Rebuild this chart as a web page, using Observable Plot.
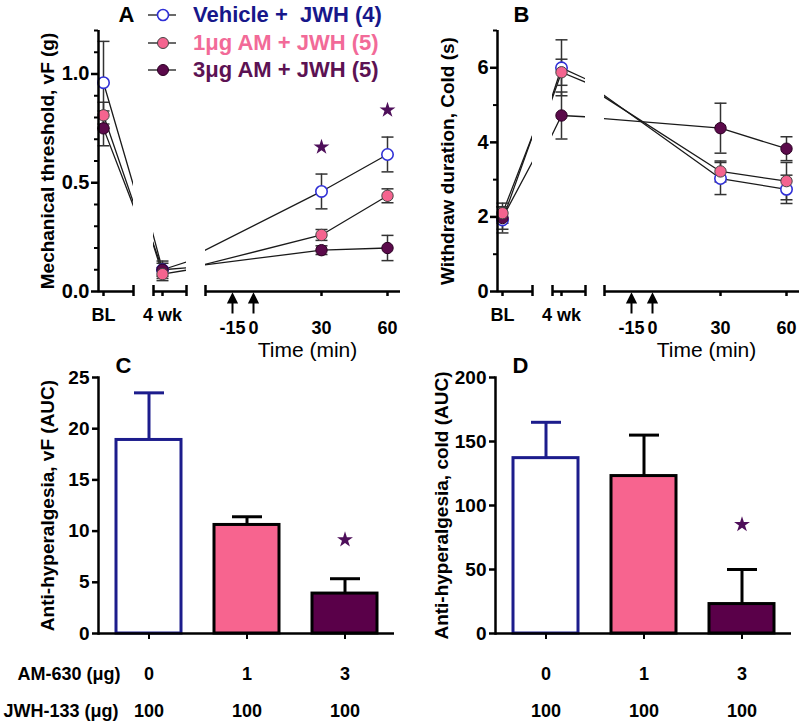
<!DOCTYPE html>
<html>
<head>
<meta charset="utf-8">
<script src="https://cdn.jsdelivr.net/npm/d3@7"></script>
<script src="https://cdn.jsdelivr.net/npm/@observablehq/plot@0.6"></script>
<style>
  html, body { margin: 0; padding: 0; background: #fff; }
  #root { position: relative; width: 800px; height: 722px; overflow: hidden;
          font-family: 'Liberation Sans', Arial, Helvetica, sans-serif; }
  .legrow { position: absolute; left: 148px; height: 26px; display: flex; align-items: center;
            font-weight: bold; font-size: 22px; white-space: pre; }
</style>
</head>
<body>
<div id="root"></div>
<script>
// ---------------- DATA ----------------
const groups = ["Vehicle +  JWH (4)", "1\u03bcg AM + JWH (5)", "3\u03bcg AM + JWH (5)"];
const timeLabels = ["BL", "4 wk", "30", "60"];
const timeTickLabels = ["-15", "0", "30", "60"];
const arrowTimes = [-15, 0];

// Panel A: mechanical threshold (g)
const vfVehicle    = [0.96, 0.10, 0.46, 0.63];
const vfVehicleSem = [0.19, 0.03, 0.08, 0.08];
const vfAm1        = [0.81, 0.08, 0.26, 0.44];
const vfAm1Sem     = [0.06, 0.03, 0.025, 0.032];
const vfAm3        = [0.75, 0.10, 0.19, 0.20];
const vfAm3Sem     = [0.08, 0.04, 0.02, 0.058];
const sigTimesA    = ["30", "60"];

// Panel B: cold withdrawal duration (s)
const coldVehicle    = [1.92, 6.00, 3.03, 2.74];
const coldVehicleSem = [0.35, 0.75, 0.43, 0.38];
const coldAm1        = [2.10, 5.88, 3.22, 2.96];
const coldAm1Sem     = [0.27, 0.35, 0.28, 0.50];
const coldAm3        = [1.97, 4.72, 4.38, 3.83];
const coldAm3Sem     = [0.30, 0.63, 0.67, 0.32];

// Panels C & D: AUC
const amDose     = ["0", "1", "3"];
const jwhDose    = ["100", "100", "100"];
const vfAUC      = [18.9, 10.6, 3.9];
const vfAUCSem   = [4.6, 0.8, 1.45];
const coldAUC    = [137, 123, 23];
const coldAUCSem = [28, 32, 27];
const sigDoseC   = ["3"];
const sigDoseD   = ["3"];

// ---------------- STYLE ----------------
const root = document.getElementById("root");
const FONT = "'Liberation Sans', Arial, Helvetica, sans-serif";
const VEH = "#2f2fd6", PINK = "#f4648f", PURPLE = "#5b0a4b", STAR = "#4e0f5a", NAVY = "#17178a";
const legendColors = [NAVY, "#f26a98", "#5c1253"];
const groupStyle = [
  {fill: "white", stroke: VEH, sw: 1.6},
  {fill: PINK, stroke: "#444", sw: 1},
  {fill: PURPLE, stroke: "#2a0022", sw: 1}
];
const drawOrder = [0, 2, 1];
const barFill = ["white", "#f7648f", "#5a0049"];
const barStroke = ["#1c1c8c", "black", "black"];
const svgStyle = {background: "transparent", overflow: "visible", fontFamily: FONT, color: "black"};

const capSym = {draw(ctx, size) { const r = Math.sqrt(size / Math.PI); ctx.moveTo(-r, 0); ctx.lineTo(r, 0); }};
const arrowSym = {draw(ctx) { ctx.moveTo(0, 0); ctx.lineTo(-4, 8); ctx.lineTo(4, 8); ctx.closePath(); ctx.moveTo(0, 7); ctx.lineTo(0, 19); }};

// virtual positions for the broken time axis
const xv = {"BL": -60, "4 wk": -40, "30": 30, "60": 60};
const segs = [
  {left: 98, right: 133, knots: [-60, -40], place: [103, 157.5], pts: ["BL"], labels: ["BL"], labelDy: 24, startTick: false, endTick: true},
  {left: 153, right: 186, knots: [-60, -40, 30], place: [112, 162, 402], pts: ["4 wk"], labels: ["4 wk"], labelDy: 24, startTick: true, endTick: true},
  {left: 205, right: 400, knots: [-60, -40, -15, 0, 30, 60], place: [116, 166, 232, 253, 321, 387], pts: ["30", "60"], labels: timeTickLabels, labelDy: 37, startTick: true, endTick: false}
];

function place(el, left, top) {
  el.style.position = "absolute";
  el.style.left = left + "px";
  el.style.top = top + "px";
  root.appendChild(el);
}

function series(means, sems, gi) {
  return timeLabels.map((t, i) => ({t, x: xv[t], m: means[i], s: sems[i], gi}));
}

function timePanel(p, offsetX) {
  segs.forEach((seg, si) => {
    const sc = d3.scaleLinear(seg.knots, seg.place);
    const lo = sc.invert(seg.left), hi = sc.invert(seg.right);
    const tick = {stroke: "black", strokeWidth: 2.5};
    const marks = [];
    drawOrder.forEach(g => marks.push(Plot.line(p.series[g], {x: "x", y: "m", stroke: "#1a1a1a", strokeWidth: 1.3, clip: true})));
    drawOrder.forEach(g => {
      const rows = p.series[g].filter(r => seg.pts.includes(r.t));
      marks.push(Plot.ruleX(rows, {x: "x", y1: r => r.m - r.s, y2: r => r.m + r.s, stroke: "#333", strokeWidth: 1.5}));
      marks.push(Plot.dot(rows, {x: "x", y: r => r.m + r.s, symbol: capSym, r: 6, stroke: "#333", strokeWidth: 1.5}));
      marks.push(Plot.dot(rows, {x: "x", y: r => r.m - r.s, symbol: capSym, r: 6, stroke: "#333", strokeWidth: 1.5}));
    });
    drawOrder.forEach(g => {
      const rows = p.series[g].filter(r => seg.pts.includes(r.t));
      const st = groupStyle[g];
      marks.push(Plot.dot(rows, {x: "x", y: "m", r: 5.7, fill: st.fill, stroke: st.stroke, strokeWidth: st.sw}));
    });
    marks.push(Plot.ruleY([0], tick));
    if (seg.startTick) marks.push(Plot.ruleX([lo], {y1: 0, y2: 0, insetTop: -6, insetBottom: -5, ...tick}));
    if (seg.endTick) marks.push(Plot.ruleX([hi], {y1: 0, y2: 0, insetTop: -6, insetBottom: -5, ...tick}));
    marks.push(Plot.ruleX(seg.pts, {x: t => xv[t], y1: 0, y2: 0, insetBottom: -5, ...tick}));
    marks.push(Plot.text(seg.labels, {x: t => (t in xv ? xv[t] : +t), y: 0, dy: seg.labelDy, text: d => d, fontSize: 18, fontWeight: "bold"}));
    if (si === 0) {
      marks.push(Plot.ruleX([lo], {...tick, insetBottom: -1.2}));
      marks.push(Plot.ruleY(p.yMinor, {x1: lo, x2: lo, insetLeft: -4, stroke: "black", strokeWidth: 2}));
      marks.push(Plot.ruleY(p.yMajor, {x1: lo, x2: lo, insetLeft: -7, ...tick}));
      marks.push(Plot.text(p.yMajor, {x: lo, y: d => d, text: p.fmt, textAnchor: "end", dx: -9, fontSize: 20, fontWeight: "bold"}));
      marks.push(Plot.text([p.ylabel], {frameAnchor: "left", textAnchor: "middle", lineAnchor: "middle", rotate: -90, dx: p.ylabelDx, fontSize: 19, fontWeight: "bold"}));
      marks.push(Plot.text([p.letter], {frameAnchor: "top-left", textAnchor: "middle", lineAnchor: "middle", dx: p.letterDx, dy: -16, fontSize: 22, fontWeight: "bold"}));
    }
    if (si === 2) {
      marks.push(Plot.dot(arrowTimes, {x: d => d, y: 0, dy: 3, symbol: arrowSym, fill: "black", stroke: "black", strokeWidth: 2}));
      marks.push(Plot.text(["Time (min)"], {frameAnchor: "bottom", textAnchor: "middle", lineAnchor: "middle", dx: 4.5, dy: p.timeDy, fontSize: 21}));
      if (p.sig.length) {
        const starRows = p.sig.map(t => ({x: xv[t], y: d3.max(p.series, s => { const r = s.find(q => q.t === t); return r.m + r.s; })}));
        marks.push(Plot.dot(starRows, {x: "x", y: "y", dy: -27, symbol: "star", r: 5, fill: STAR}));
      }
    }
    const svg = Plot.plot({
      width: 400, height: 360,
      marginLeft: seg.left, marginRight: 400 - seg.right, marginTop: 30, marginBottom: 360 - 291,
      x: {transform: v => sc(v), domain: [seg.left, seg.right], axis: null},
      y: {domain: p.yDomain, axis: null},
      style: svgStyle,
      marks
    });
    place(svg, offsetX, 0);
  });
}

function barPanel(o, offsetX) {
  const rows = amDose.map((d, i) => ({d, v: o.values[i], s: o.sems[i], jwh: jwhDose[i], i}));
  const marks = [];
  rows.forEach(r => {
    marks.push(Plot.ruleX([r], {x: "d", y1: "v", y2: q => q.v + q.s, stroke: barStroke[r.i], strokeWidth: 3}));
    marks.push(Plot.dot([r], {x: "d", y: q => q.v + q.s, symbol: capSym, r: 15, stroke: barStroke[r.i], strokeWidth: 3}));
    marks.push(Plot.barY([r], {x: "d", y: "v", fill: barFill[r.i], stroke: barStroke[r.i], strokeWidth: 3}));
  });
  marks.push(Plot.ruleY([0], {stroke: "black", strokeWidth: 2.5}));
  marks.push(Plot.frame({anchor: "left", stroke: "black", strokeWidth: 2.5}));
  marks.push(Plot.axisY({ticks: o.yTicks, tickSize: 6, tickPadding: 3, fontSize: 19, fontWeight: "bold", strokeWidth: 2.5, label: null}));
  marks.push(Plot.ruleX(rows, {x: "d", y1: 0, y2: 0, insetBottom: -6, stroke: "black", strokeWidth: 2}));
  marks.push(Plot.text(rows, {x: "d", y: 0, dy: 41, text: "d", fontSize: 18, fontWeight: "bold"}));
  marks.push(Plot.text(rows, {x: "d", y: 0, dy: 78, text: "jwh", fontSize: 18, fontWeight: "bold"}));
  marks.push(Plot.dot(rows.filter(r => o.sig.includes(r.d)), {x: "d", y: r => r.v + r.s, dy: o.starDy, symbol: "star", r: 5, fill: STAR}));
  marks.push(Plot.text([o.ylabel], {frameAnchor: "left", textAnchor: "middle", lineAnchor: "middle", rotate: -90, dx: o.ylabelDx, fontSize: 19, fontWeight: "bold"}));
  marks.push(Plot.text([o.letter], {frameAnchor: "top-left", textAnchor: "middle", lineAnchor: "middle", dx: 25, dy: -12, fontSize: 22, fontWeight: "bold"}));
  if (o.rowLabels) {
    marks.push(Plot.text(["AM-630 (\u03bcg)"], {frameAnchor: "bottom-left", textAnchor: "end", lineAnchor: "middle", dx: 22, dy: 41, fontSize: 18, fontWeight: "bold"}));
    marks.push(Plot.text(["JWH-133 (\u03bcg)"], {frameAnchor: "bottom-left", textAnchor: "end", lineAnchor: "middle", dx: 20, dy: 78, fontSize: 18, fontWeight: "bold"}));
  }
  const svg = Plot.plot({
    width: 400, height: 362,
    marginLeft: 98, marginRight: 6, marginTop: 17, marginBottom: 89,
    x: {domain: amDose, paddingInner: 0.34, paddingOuter: 0.165, axis: null},
    y: {domain: o.yDomain, axis: null},
    style: svgStyle,
    marks
  });
  place(svg, offsetX, 360);
}

// ---------------- PANELS ----------------
timePanel({
  series: [series(vfVehicle, vfVehicleSem, 0), series(vfAm1, vfAm1Sem, 1), series(vfAm3, vfAm3Sem, 2)],
  yDomain: [0, 1.2], yMajor: [0, 0.5, 1.0], yMinor: [0.1, 0.2, 0.3, 0.4, 0.6, 0.7, 0.8, 0.9, 1.1, 1.2],
  fmt: d3.format(".1f"), ylabel: "Mechanical threshold, vF (g)", ylabelDx: -51,
  letter: "A", letterDx: 28, timeDy: 59, sig: sigTimesA
}, 0);

timePanel({
  series: [series(coldVehicle, coldVehicleSem, 0), series(coldAm1, coldAm1Sem, 1), series(coldAm3, coldAm3Sem, 2)],
  yDomain: [0, 7], yMajor: [0, 2, 4, 6], yMinor: [1, 3, 5, 7],
  fmt: d3.format("d"), ylabel: "Withdraw duration, Cold (s)", ylabelDx: -50,
  letter: "B", letterDx: 24, timeDy: 59, sig: []
}, 399);

barPanel({values: vfAUC, sems: vfAUCSem, yDomain: [0, 25], yTicks: [0, 5, 10, 15, 20, 25],
  ylabel: "Anti-hyperalgesia, vF (AUC)", ylabelDx: -51, letter: "C", sig: sigDoseC, starDy: -39, rowLabels: true}, 0);
barPanel({values: coldAUC, sems: coldAUCSem, yDomain: [0, 200], yTicks: [0, 50, 100, 150, 200],
  ylabel: "Anti-hyperalgesia, cold (AUC)", ylabelDx: -54, letter: "D", sig: sigDoseD, starDy: -45, rowLabels: false}, 397);

// ---------------- LEGEND ----------------
groups.forEach((g, i) => {
  const row = document.createElement("div");
  row.className = "legrow";
  row.style.top = (2 + i * 27.5) + "px";
  const st = groupStyle[i];
  row.innerHTML = `<svg width="28" height="26" style="overflow:visible"><line x1="0" x2="28" y1="13" y2="13" stroke="#1a1a1a" stroke-width="1.3"/><circle cx="15" cy="13" r="5.5" fill="${st.fill}" stroke="${st.stroke}" stroke-width="${st.sw}"/></svg><span style="margin-left:17px;color:${legendColors[i]}">${g}</span>`;
  root.appendChild(row);
});
</script>
</body>
</html>
